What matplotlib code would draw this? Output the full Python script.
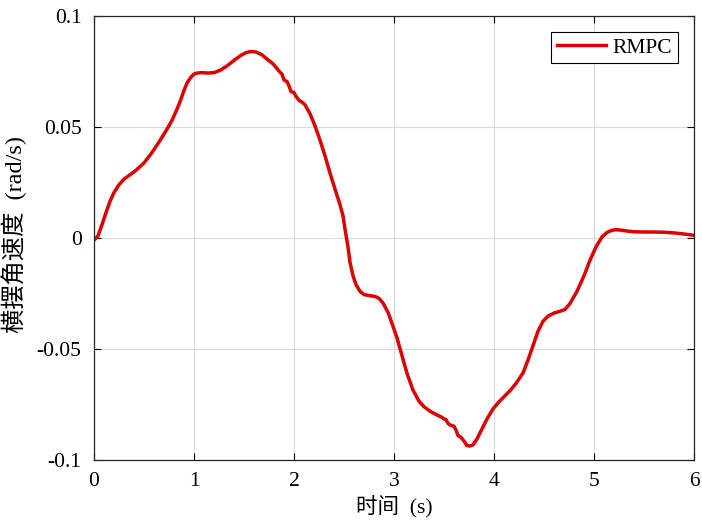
import numpy as np
import matplotlib.pyplot as plt
from matplotlib.ticker import FuncFormatter

# RMPC yaw rate
t = [0.0, 0.04, 0.08, 0.12, 0.16, 0.2, 0.25, 0.3, 0.36, 0.42, 0.5, 0.58,
     0.67, 0.73, 0.78, 0.83, 0.87, 0.9, 0.93, 0.97, 1.0, 1.03, 1.08, 1.14,
     1.2, 1.26, 1.33, 1.4, 1.47, 1.52, 1.57, 1.62, 1.68, 1.73, 1.79, 1.85,
     1.88, 1.9, 1.93, 1.95, 1.97, 2.0, 2.02, 2.05, 2.08, 2.11, 2.16, 2.21,
     2.26, 2.31, 2.36, 2.41, 2.46, 2.49, 2.51, 2.54, 2.56, 2.59, 2.62, 2.66,
     2.7, 2.76, 2.81, 2.85, 2.89, 2.94, 2.98, 3.03, 3.08, 3.13, 3.19, 3.25,
     3.3, 3.36, 3.42, 3.48, 3.5, 3.52, 3.54, 3.56, 3.6, 3.62, 3.64, 3.67,
     3.7, 3.73, 3.76, 3.79, 3.83, 3.88, 3.93, 3.99, 4.05, 4.1, 4.16, 4.22,
     4.29, 4.34, 4.39, 4.44, 4.49, 4.54, 4.6, 4.66, 4.71, 4.76, 4.83, 4.9,
     4.96, 5.02, 5.08, 5.13, 5.18, 5.22, 5.26, 5.32, 5.4, 5.5, 5.6, 5.7,
     5.8, 5.9, 6.0]
yaw = [-0.0010, 0.0010, 0.0060, 0.0115, 0.0165, 0.0205, 0.0240, 0.0265,
       0.0285, 0.0305, 0.0338, 0.0385, 0.0446, 0.0490, 0.0530, 0.0580,
       0.0626, 0.0665, 0.0698, 0.0725, 0.0738, 0.0743, 0.0745, 0.0743,
       0.0745, 0.0755, 0.0775, 0.0800, 0.0823, 0.0835, 0.0840, 0.0838,
       0.0825, 0.0806, 0.0785, 0.0752, 0.0738, 0.0712, 0.0705, 0.0685,
       0.0660, 0.0655, 0.0638, 0.0620, 0.0612, 0.0600, 0.0560, 0.0505,
       0.0441, 0.0370, 0.0293, 0.0220, 0.0150, 0.0100, 0.0040, -0.0040,
       -0.0110, -0.0170, -0.0210, -0.0240, -0.0255, -0.0260, -0.0263,
       -0.0272, -0.0293, -0.0335, -0.0385, -0.0450, -0.0530, -0.0610,
       -0.0685, -0.0735, -0.0760, -0.0780, -0.0795, -0.0808, -0.0815,
       -0.0818, -0.0835, -0.0842, -0.0848, -0.0865, -0.0890, -0.0898,
       -0.0915, -0.0935, -0.0937, -0.0932, -0.0905, -0.0860, -0.0815,
       -0.0770, -0.0738, -0.0715, -0.0688, -0.0655, -0.0608, -0.0550,
       -0.0485, -0.0420, -0.0375, -0.0352, -0.0338, -0.0330, -0.0322,
       -0.0295, -0.0240, -0.0170, -0.0100, -0.0040, 0.0005, 0.0025,
       0.0035, 0.0037, 0.0036, 0.0032, 0.0028, 0.0027, 0.0027, 0.0026,
       0.0023, 0.0018, 0.0012]

x_ticks = [0, 1, 2, 3, 4, 5, 6]
y_ticks = [-0.1, -0.05, 0, 0.05, 0.1]

plt.rcParams['font.family'] = ['Liberation Serif', 'Noto Sans CJK SC']
plt.rcParams['axes.unicode_minus'] = False

fig = plt.figure(figsize=(7.02, 5.27), dpi=100)
ax = fig.add_axes([94 / 702, 67 / 527, 600 / 702, 444 / 527])

ax.plot(t, yaw, color='#dc0000', lw=2.5, label='RMPC', solid_joinstyle='round')

ax.set_xlim(0, 6)
ax.set_ylim(-0.1, 0.1)
ax.set_xticks(x_ticks)
ax.set_yticks(y_ticks)
ax.yaxis.set_major_formatter(FuncFormatter(lambda v, p: '0' if abs(v) < 1e-9 else f'{v:g}'))
ax.tick_params(direction='in', top=True, right=True, labelsize=15.5, length=5,
               width=0.8, pad=9)
ax.grid(True, color='#d9d9d9', lw=0.8)
for s in ax.spines.values():
    s.set_linewidth(0.9)
    s.set_color('#262626')

ax.set_xlabel('时间  (s)', fontsize=15.5)
ax.set_ylabel('横摆角速度  (rad/s)', fontsize=17.5)
ax.xaxis.set_label_coords(0.5, -0.082)
ax.yaxis.set_label_coords(-0.112, 0.507)

leg = ax.legend(loc='upper right', fontsize=15.5, fancybox=False, framealpha=1,
                edgecolor='black', borderpad=0.25, handlelength=2.3,
                borderaxespad=0.75, handletextpad=0.3)
leg.get_frame().set_linewidth(0.8)

fig.savefig('out.png', dpi=100)
